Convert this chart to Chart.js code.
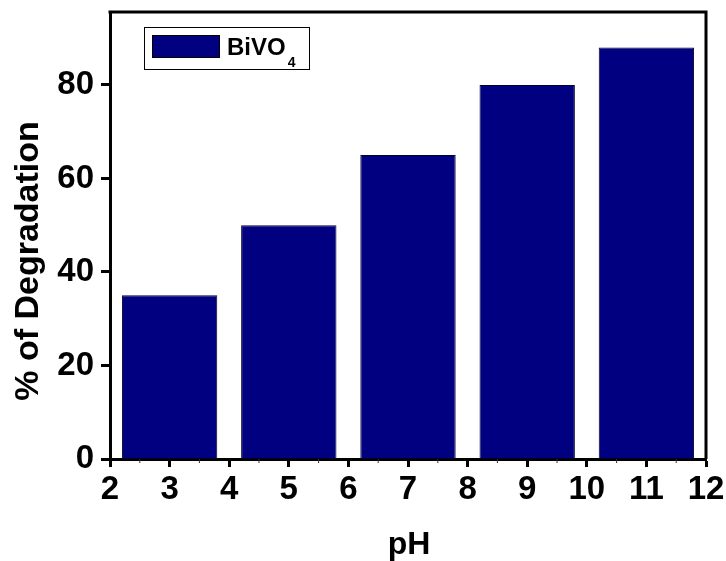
<!DOCTYPE html>
<html>
<head>
<meta charset="utf-8">
<script src="https://cdn.jsdelivr.net/npm/chart.js@4.4.1/dist/chart.umd.min.js"></script>
<style>
html,body{margin:0;padding:0;background:#fff;}
#wrap{width:726px;height:561px;position:relative;}
</style>
</head>
<body>
<div id="wrap"><canvas id="c" width="726" height="561"></canvas></div>
<script>
// ---- data ----
const phValues = [3, 5, 7, 9, 11];
const degradation = [35, 50, 65, 80, 88];
const seriesLabel = 'BiVO';
const seriesSub = '4';
const xTicks = [2, 3, 4, 5, 6, 7, 8, 9, 10, 11, 12];
const yTicks = [0, 20, 40, 60, 80];
const xTitle = 'pH';
const yTitle = '% of Degradation';

const FONT = '"Liberation Sans", Arial, Helvetica, sans-serif';
const barColor = '#000080';

const framePlugin = {
  id: 'frame',
  afterDraw(chart) {
    const {ctx, chartArea: a, scales} = chart;
    ctx.save();
    ctx.strokeStyle = '#000';
    ctx.lineWidth = 3;
    ctx.beginPath();
    ctx.moveTo(a.left - 1.5, a.top);
    ctx.lineTo(a.right, a.top);
    ctx.lineTo(a.right, a.bottom);
    ctx.stroke();
    // minor ticks on x (half units)
    ctx.lineWidth = 1;
    ctx.strokeStyle = '#333';
    for (let v = xTicks[0] + 0.5; v < xTicks[xTicks.length - 1]; v += 1) {
      const px = scales.x.getPixelForValue(v);
      ctx.beginPath();
      ctx.moveTo(px, a.bottom);
      ctx.lineTo(px, a.bottom + 4);
      ctx.stroke();
    }
    // axis titles
    ctx.fillStyle = '#000';
    ctx.textAlign = 'center';
    ctx.textBaseline = 'alphabetic';
    ctx.font = 'bold 32px ' + FONT;
    ctx.fillText(xTitle, (a.left + a.right) / 2 + 1, 554);
    ctx.save();
    ctx.translate(37.5, 261);
    ctx.rotate(-Math.PI / 2);
    ctx.font = 'bold 34px ' + FONT;
    ctx.fillText(yTitle, 0, 0);
    ctx.restore();
    // legend
    const lx = 144, ly = 27, lw = 165, lh = 42;
    ctx.fillStyle = '#fff';
    ctx.fillRect(lx, ly, lw, lh);
    ctx.strokeStyle = '#000';
    ctx.lineWidth = 1;
    ctx.strokeRect(lx + 0.5, ly + 0.5, lw, lh);
    ctx.fillStyle = barColor;
    ctx.fillRect(152, 35, 68, 23);
    ctx.strokeStyle = '#000';
    ctx.strokeRect(152.5, 35.5, 67, 22);
    ctx.fillStyle = '#000';
    ctx.textBaseline = 'alphabetic';
    ctx.textAlign = 'left';
    ctx.font = 'bold 24px ' + FONT;
    ctx.fillText(seriesLabel, 227, 55);
    const w = ctx.measureText(seriesLabel).width;
    ctx.font = 'bold 14px ' + FONT;
    ctx.fillText(seriesSub, 227 + w + 2, 67);
    ctx.restore();
  }
};

new Chart(document.getElementById('c'), {
  type: 'bar',
  data: {
    datasets: [{
      label: seriesLabel + seriesSub,
      data: phValues.map((x, i) => ({x: x, y: degradation[i]})),
      backgroundColor: barColor,
      borderColor: '#00002a',
      borderWidth: 1,
      barPercentage: 1.6,
      categoryPercentage: 1.0
    }]
  },
  options: {
    responsive: false,
    animation: false,
    events: [],
    layout: {padding: {left: 0, right: 20, top: 12, bottom: 0}},
    plugins: {legend: {display: false}, tooltip: {enabled: false}},
    scales: {
      x: {
        type: 'linear',
        offset: false,
        min: 2, max: 12,
        afterBuildTicks: s => { s.ticks = xTicks.map(v => ({value: v})); },
        afterFit: s => { s.height = 102; s.paddingLeft = 0; s.paddingRight = 0; },
        ticks: {color: '#000', font: {family: FONT, size: 33, weight: 'bold'}, padding: 3, maxRotation: 0, autoSkip: false},
        grid: {display: true, offset: false, drawOnChartArea: false, drawTicks: true, tickLength: 8, tickWidth: 3, tickColor: '#000'},
        border: {display: true, color: '#000', width: 3},
        title: {display: false, text: xTitle}
      },
      y: {
        min: 0, max: 95.6,
        afterBuildTicks: s => { s.ticks = yTicks.map(v => ({value: v})); },
        afterFit: s => { s.width = 110; s.paddingTop = 0; s.paddingBottom = 0; },
        ticks: {color: '#000', font: {family: FONT, size: 33, weight: 'bold'}, padding: 7},
        grid: {display: true, drawOnChartArea: false, drawTicks: true, tickLength: 9, tickWidth: 3, tickColor: '#000'},
        border: {display: true, color: '#000', width: 3},
        title: {display: false, text: yTitle}
      }
    }
  },
  plugins: [framePlugin]
});
</script>
</body>
</html>
